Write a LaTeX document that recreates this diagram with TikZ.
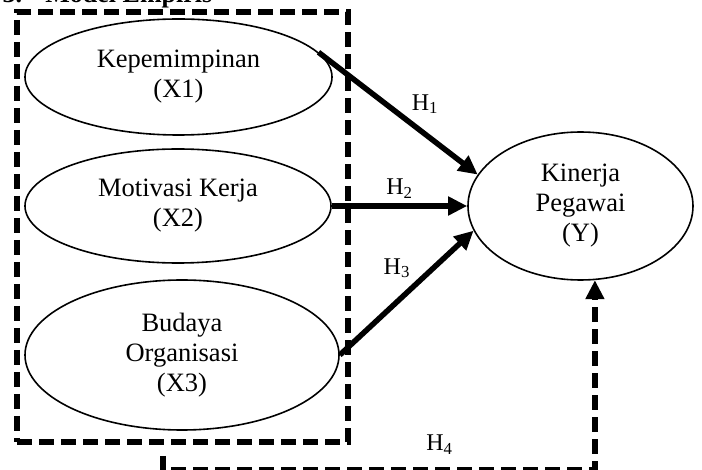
\documentclass[tikz,border=0pt]{standalone}
\usepackage{fontspec}
\setmainfont{Liberation Serif}
\usetikzlibrary{shapes.geometric,arrows.meta}

\begin{document}
\begin{tikzpicture}[x=1pt,y=-1pt,
  var/.style={draw, ellipse, line width=1.6pt, inner sep=0pt, align=center, font=\fontsize{26.5}{30}\selectfont},
  hyp/.style={line width=5.5pt, -{Triangle[length=19pt,width=18pt]}},
  frame/.style={line width=5.5pt, dash pattern=on 15pt off 7pt},
  hlabel/.style={font=\fontsize{24}{28}\selectfont, inner sep=1pt}]

\useasboundingbox (0,0) rectangle (702,470);

% title, cut off at the top
\node[anchor=base west, font=\bfseries\fontsize{26}{30}\selectfont] (title) at (-1,3) {3.\hspace{0.9em}Model Empiris};

% group of independent variables
\node[frame, draw, minimum width=331pt, minimum height=430pt, inner sep=0pt] (grp) at (182.5,227) {};

\node[var, minimum width=307pt, minimum height=116pt] (kep) at (178.5,77) {Kepemimpinan\\(X1)};
\node[var, minimum width=306pt, minimum height=114pt] (mot) at (178,206) {Motivasi Kerja\\(X2)};
\node[var, minimum width=314pt, minimum height=150pt] (bud) at (182,355) {Budaya\\Organisasi\\(X3)};
\node[var, minimum width=225pt, minimum height=148pt] (kin) at (580.5,206) {Kinerja\\Pegawai\\(Y)};

% hypotheses
\draw[hyp] (kep.10) -- (kin.163) node[hlabel, pos=0.55, above right=2pt] {H\textsubscript{1}};
\draw[hyp] (mot.east) -- (kin.west) node[hlabel, midway, above=4pt] {H\textsubscript{2}};
\draw[hyp] (bud.east) -- (kin.193) node[hlabel, pos=0.5, above left=1pt, xshift=8pt, yshift=10pt] {H\textsubscript{3}};

\coordinate (h4a) at ([xshift=-19.5pt, yshift=-11pt]grp.south);
\draw[frame, -{Triangle[length=19pt,width=18pt]}] (h4a) -- ++(0,14) -| (kin.281)
  node[hlabel, pos=0.32, above=12pt] {H\textsubscript{4}};

\end{tikzpicture}
\end{document}
